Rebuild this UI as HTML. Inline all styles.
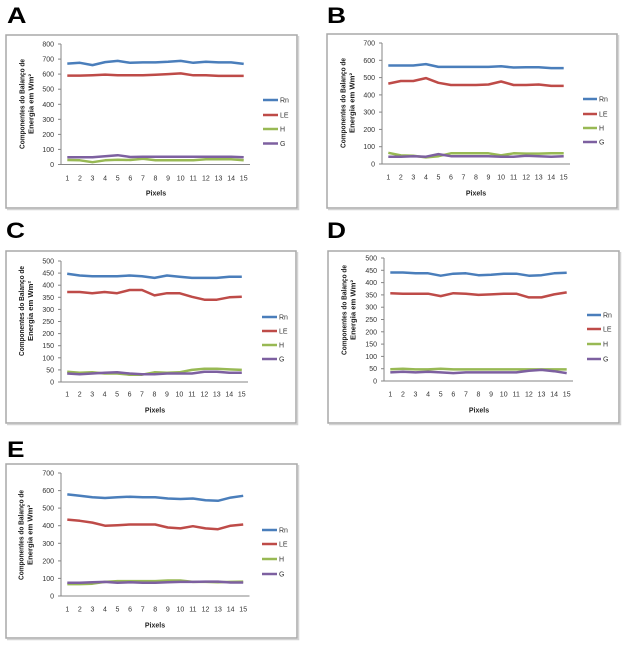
<!DOCTYPE html>
<html><head><meta charset="utf-8"><style>
html,body{margin:0;padding:0;background:#fff;}
svg{display:block;}
text{font-family:"Liberation Sans",Arial,sans-serif;fill:#333;}
.t{font-size:7px;}
.b{font-size:7px;font-weight:bold;fill:#222;}
.y{font-size:7.3px;font-weight:bold;fill:#1a1a1a;}
.L{font-size:22px;font-weight:bold;fill:#000;}
.ax{stroke:#868686;stroke-width:1;fill:none;}
.rn{stroke:#4a7ebb;stroke-width:2.5;fill:none;stroke-linejoin:round;}
.le{stroke:#be4b48;stroke-width:2.5;fill:none;stroke-linejoin:round;}
.h{stroke:#98b954;stroke-width:2.5;fill:none;stroke-linejoin:round;}
.g{stroke:#7d60a0;stroke-width:2.5;fill:none;stroke-linejoin:round;}
.fr{fill:#fff;stroke:#a8a8a8;stroke-width:1.5;}
.sh{stroke:#d4d4d4;stroke-width:1.5;fill:none;}
</style></head><body>
<svg width="628" height="650" viewBox="0 0 628 650" xmlns="http://www.w3.org/2000/svg">

<!-- ===== Panel A ===== -->
<text class="L" x="7" y="23" textLength="19.5" lengthAdjust="spacingAndGlyphs">A</text>
<rect class="fr" x="6" y="35" width="291" height="173"/>
<polyline class="sh" points="298.5,36 298.5,209.5 7,209.5"/>
<line class="ax" x1="61" y1="44" x2="61" y2="164.5"/>
<line class="ax" x1="61" y1="164.5" x2="250" y2="164.5"/>
<g class="ax">
<line x1="58" y1="164.5" x2="61" y2="164.5"/><line x1="58" y1="149.4" x2="61" y2="149.4"/><line x1="58" y1="134.4" x2="61" y2="134.4"/><line x1="58" y1="119.3" x2="61" y2="119.3"/><line x1="58" y1="104.3" x2="61" y2="104.3"/><line x1="58" y1="89.2" x2="61" y2="89.2"/><line x1="58" y1="74.1" x2="61" y2="74.1"/><line x1="58" y1="59.1" x2="61" y2="59.1"/><line x1="58" y1="44" x2="61" y2="44"/>
</g>
<g class="t" text-anchor="end">
<text x="54" y="167">0</text><text x="54" y="151.9">100</text><text x="54" y="136.9">200</text><text x="54" y="121.8">300</text><text x="54" y="106.8">400</text><text x="54" y="91.7">500</text><text x="54" y="76.6">600</text><text x="54" y="61.6">700</text><text x="54" y="46.5">800</text>
</g>
<g class="t" text-anchor="middle">
<text x="67.3" y="180.5">1</text><text x="79.9" y="180.5">2</text><text x="92.5" y="180.5">3</text><text x="105.1" y="180.5">4</text><text x="117.7" y="180.5">5</text><text x="130.3" y="180.5">6</text><text x="142.9" y="180.5">7</text><text x="155.5" y="180.5">8</text><text x="168.1" y="180.5">9</text><text x="180.7" y="180.5">10</text><text x="193.3" y="180.5">11</text><text x="205.9" y="180.5">12</text><text x="218.5" y="180.5">13</text><text x="231.1" y="180.5">14</text><text x="243.7" y="180.5">15</text>
</g>
<text class="b" x="156" y="195.5" text-anchor="middle">Pixels</text>
<text class="y" text-anchor="middle" transform="translate(24.5,104) rotate(-90)" textLength="90" lengthAdjust="spacingAndGlyphs">Componentes do Balanço de</text>
<text class="y" text-anchor="middle" transform="translate(33.5,104) rotate(-90)" textLength="60" lengthAdjust="spacingAndGlyphs">Energia em Wm²</text>
<polyline class="rn" points="67.3,63.6 79.9,62.8 92.5,65.1 105.1,62.1 117.7,60.9 130.3,62.8 142.9,62.4 155.5,62.4 168.1,61.8 180.7,60.9 193.3,62.8 205.9,61.8 218.5,62.4 231.1,62.4 243.7,63.9"/>
<polyline class="le" points="67.3,75.6 79.9,75.6 92.5,75.2 105.1,74.6 117.7,75.3 130.3,75.3 142.9,75.3 155.5,74.7 168.1,74.1 180.7,73.4 193.3,75.3 205.9,75.3 218.5,75.9 231.1,75.9 243.7,75.9"/>
<polyline class="h" points="67.3,160 79.9,160.3 92.5,162.2 105.1,160.3 117.7,159.7 130.3,160 142.9,158.8 155.5,160.3 168.1,160.3 180.7,160.3 193.3,160.3 205.9,159.2 218.5,159.2 231.1,159.2 243.7,160.3"/>
<polyline class="g" points="67.3,157.3 79.9,157.3 92.5,157.3 105.1,156.2 117.7,155.2 130.3,157 142.9,156.7 155.5,156.7 168.1,156.7 180.7,156.7 193.3,156.7 205.9,156.7 218.5,156.7 231.1,156.7 243.7,157.3"/>
<line class="rn" x1="263" y1="100" x2="278" y2="100"/><text class="t" x="280" y="102.5">Rn</text>
<line class="le" x1="263" y1="115" x2="278" y2="115"/><text class="t" x="280" y="117.5">LE</text>
<line class="h" x1="263" y1="129" x2="278" y2="129"/><text class="t" x="280" y="131.5">H</text>
<line class="g" x1="263" y1="143.5" x2="278" y2="143.5"/><text class="t" x="280" y="146">G</text>

<!-- ===== Panel B ===== -->
<text class="L" x="327" y="23" textLength="19" lengthAdjust="spacingAndGlyphs">B</text>
<rect class="fr" x="327" y="34" width="290" height="174"/>
<polyline class="sh" points="618.5,35 618.5,209.5 328,209.5"/>
<line class="ax" x1="382" y1="43" x2="382" y2="164"/>
<line class="ax" x1="382" y1="164" x2="570" y2="164"/>
<g class="ax">
<line x1="379" y1="164" x2="382" y2="164"/><line x1="379" y1="146.7" x2="382" y2="146.7"/><line x1="379" y1="129.4" x2="382" y2="129.4"/><line x1="379" y1="112.1" x2="382" y2="112.1"/><line x1="379" y1="94.9" x2="382" y2="94.9"/><line x1="379" y1="77.6" x2="382" y2="77.6"/><line x1="379" y1="60.3" x2="382" y2="60.3"/><line x1="379" y1="43" x2="382" y2="43"/>
</g>
<g class="t" text-anchor="end">
<text x="375" y="166.5">0</text><text x="375" y="149.2">100</text><text x="375" y="131.9">200</text><text x="375" y="114.6">300</text><text x="375" y="97.4">400</text><text x="375" y="80.1">500</text><text x="375" y="62.8">600</text><text x="375" y="45.5">700</text>
</g>
<g class="t" text-anchor="middle">
<text x="388.3" y="179.5">1</text><text x="400.8" y="179.5">2</text><text x="413.3" y="179.5">3</text><text x="425.9" y="179.5">4</text><text x="438.4" y="179.5">5</text><text x="450.9" y="179.5">6</text><text x="463.5" y="179.5">7</text><text x="476" y="179.5">8</text><text x="488.5" y="179.5">9</text><text x="501.1" y="179.5">10</text><text x="513.6" y="179.5">11</text><text x="526.1" y="179.5">12</text><text x="538.7" y="179.5">13</text><text x="551.2" y="179.5">14</text><text x="563.7" y="179.5">15</text>
</g>
<text class="b" x="476" y="195.5" text-anchor="middle">Pixels</text>
<text class="y" text-anchor="middle" transform="translate(345.5,103) rotate(-90)" textLength="90" lengthAdjust="spacingAndGlyphs">Componentes do Balanço de</text>
<text class="y" text-anchor="middle" transform="translate(354.5,103) rotate(-90)" textLength="60" lengthAdjust="spacingAndGlyphs">Energia em Wm²</text>
<polyline class="rn" points="388.3,65.5 400.8,65.5 413.3,65.5 425.9,64.1 438.4,66.9 450.9,66.9 463.5,66.9 476,66.9 488.5,66.9 501.1,66.3 513.6,67.5 526.1,67.2 538.7,67.2 551.2,68.1 563.7,68.1"/>
<polyline class="le" points="388.3,83.6 400.8,81 413.3,81 425.9,78.1 438.4,82.8 450.9,85 463.5,85 476,85 488.5,84.5 501.1,81.5 513.6,85 526.1,85 538.7,84.5 551.2,85.9 563.7,85.9"/>
<polyline class="h" points="388.3,152.8 400.8,155.4 413.3,155.7 425.9,157.4 438.4,156.2 450.9,153.3 463.5,153.3 476,153.3 488.5,153.3 501.1,155.4 513.6,153.3 526.1,153.6 538.7,153.6 551.2,153.3 563.7,153.3"/>
<polyline class="g" points="388.3,156.7 400.8,156.7 413.3,156.2 425.9,156.7 438.4,154.1 450.9,156.2 463.5,156.2 476,156.2 488.5,156.2 501.1,156.7 513.6,156.7 526.1,155.7 538.7,156.2 551.2,156.7 563.7,156.2"/>
<line class="rn" x1="583" y1="99" x2="597" y2="99"/><text class="t" x="599" y="101.5">Rn</text>
<line class="le" x1="583" y1="114" x2="597" y2="114"/><text class="t" x="599" y="116.5">LE</text>
<line class="h" x1="583" y1="128" x2="597" y2="128"/><text class="t" x="599" y="130.5">H</text>
<line class="g" x1="583" y1="142" x2="597" y2="142"/><text class="t" x="599" y="144.5">G</text>

<!-- ===== Panel C ===== -->
<text class="L" x="6" y="238" textLength="19" lengthAdjust="spacingAndGlyphs">C</text>
<rect class="fr" x="6" y="251" width="290" height="172"/>
<polyline class="sh" points="297.5,252 297.5,424.5 7,424.5"/>
<line class="ax" x1="61" y1="261" x2="61" y2="382"/>
<line class="ax" x1="61" y1="382" x2="248" y2="382"/>
<g class="ax">
<line x1="58" y1="382" x2="61" y2="382"/><line x1="58" y1="369.9" x2="61" y2="369.9"/><line x1="58" y1="357.8" x2="61" y2="357.8"/><line x1="58" y1="345.7" x2="61" y2="345.7"/><line x1="58" y1="333.6" x2="61" y2="333.6"/><line x1="58" y1="321.5" x2="61" y2="321.5"/><line x1="58" y1="309.4" x2="61" y2="309.4"/><line x1="58" y1="297.3" x2="61" y2="297.3"/><line x1="58" y1="285.2" x2="61" y2="285.2"/><line x1="58" y1="273.1" x2="61" y2="273.1"/><line x1="58" y1="261" x2="61" y2="261"/>
</g>
<g class="t" text-anchor="end">
<text x="54" y="384.5">0</text><text x="54" y="372.4">50</text><text x="54" y="360.3">100</text><text x="54" y="348.2">150</text><text x="54" y="336.1">200</text><text x="54" y="324">250</text><text x="54" y="311.9">300</text><text x="54" y="299.8">350</text><text x="54" y="287.7">400</text><text x="54" y="275.6">450</text><text x="54" y="263.5">500</text>
</g>
<g class="t" text-anchor="middle">
<text x="67.2" y="396.5">1</text><text x="79.7" y="396.5">2</text><text x="92.2" y="396.5">3</text><text x="104.6" y="396.5">4</text><text x="117.1" y="396.5">5</text><text x="129.6" y="396.5">6</text><text x="142" y="396.5">7</text><text x="154.5" y="396.5">8</text><text x="167" y="396.5">9</text><text x="179.4" y="396.5">10</text><text x="191.9" y="396.5">11</text><text x="204.4" y="396.5">12</text><text x="216.8" y="396.5">13</text><text x="229.3" y="396.5">14</text><text x="241.8" y="396.5">15</text>
</g>
<text class="b" x="155" y="412.5" text-anchor="middle">Pixels</text>
<text class="y" text-anchor="middle" transform="translate(24,311) rotate(-90)" textLength="90" lengthAdjust="spacingAndGlyphs">Componentes do Balanço de</text>
<text class="y" text-anchor="middle" transform="translate(33,311) rotate(-90)" textLength="60" lengthAdjust="spacingAndGlyphs">Energia em Wm²</text>
<polyline class="rn" points="67.2,273.8 79.7,275.5 92.2,276.2 104.6,276.2 117.1,276.2 129.6,275.5 142,276.2 154.5,277.9 167,275.5 179.4,276.7 191.9,277.9 204.4,277.9 216.8,277.9 229.3,276.7 241.8,276.7"/>
<polyline class="le" points="67.2,292 79.7,292 92.2,293.2 104.6,292 117.1,293.2 129.6,290 142,290 154.5,295.4 167,293.2 179.4,293.2 191.9,296.8 204.4,299.7 216.8,299.7 229.3,297.3 241.8,296.8"/>
<polyline class="h" points="67.2,371.8 79.7,372.8 92.2,372.3 104.6,373.5 117.1,373.5 129.6,374.7 142,374.7 154.5,372.3 167,372.8 179.4,372.3 191.9,369.9 204.4,368.7 216.8,368.7 229.3,369.4 241.8,369.9"/>
<polyline class="g" points="67.2,373.5 79.7,374.3 92.2,373.5 104.6,372.8 117.1,372.3 129.6,373.5 142,374.3 154.5,374.3 167,373.5 179.4,373.5 191.9,373.5 204.4,371.8 216.8,371.8 229.3,372.8 241.8,372.8"/>
<line class="rn" x1="262" y1="317" x2="277" y2="317"/><text class="t" x="279" y="319.5">Rn</text>
<line class="le" x1="262" y1="331" x2="277" y2="331"/><text class="t" x="279" y="333.5">LE</text>
<line class="h" x1="262" y1="345" x2="277" y2="345"/><text class="t" x="279" y="347.5">H</text>
<line class="g" x1="262" y1="359" x2="277" y2="359"/><text class="t" x="279" y="361.5">G</text>

<!-- ===== Panel D ===== -->
<text class="L" x="327" y="238" textLength="19" lengthAdjust="spacingAndGlyphs">D</text>
<rect class="fr" x="328" y="251" width="291" height="172"/>
<polyline class="sh" points="620.5,252 620.5,424.5 329,424.5"/>
<line class="ax" x1="384" y1="258" x2="384" y2="381"/>
<line class="ax" x1="384" y1="381" x2="573" y2="381"/>
<g class="ax">
<line x1="381" y1="381" x2="384" y2="381"/><line x1="381" y1="368.7" x2="384" y2="368.7"/><line x1="381" y1="356.4" x2="384" y2="356.4"/><line x1="381" y1="344.1" x2="384" y2="344.1"/><line x1="381" y1="331.8" x2="384" y2="331.8"/><line x1="381" y1="319.5" x2="384" y2="319.5"/><line x1="381" y1="307.2" x2="384" y2="307.2"/><line x1="381" y1="294.9" x2="384" y2="294.9"/><line x1="381" y1="282.6" x2="384" y2="282.6"/><line x1="381" y1="270.3" x2="384" y2="270.3"/><line x1="381" y1="258" x2="384" y2="258"/>
</g>
<g class="t" text-anchor="end">
<text x="377" y="383.5">0</text><text x="377" y="371.2">50</text><text x="377" y="358.9">100</text><text x="377" y="346.6">150</text><text x="377" y="334.3">200</text><text x="377" y="322">250</text><text x="377" y="309.7">300</text><text x="377" y="297.4">350</text><text x="377" y="285.1">400</text><text x="377" y="272.8">450</text><text x="377" y="260.5">500</text>
</g>
<g class="t" text-anchor="middle">
<text x="390.3" y="396.5">1</text><text x="402.9" y="396.5">2</text><text x="415.5" y="396.5">3</text><text x="428.1" y="396.5">4</text><text x="440.7" y="396.5">5</text><text x="453.3" y="396.5">6</text><text x="465.9" y="396.5">7</text><text x="478.5" y="396.5">8</text><text x="491.1" y="396.5">9</text><text x="503.7" y="396.5">10</text><text x="516.3" y="396.5">11</text><text x="528.9" y="396.5">12</text><text x="541.5" y="396.5">13</text><text x="554.1" y="396.5">14</text><text x="566.7" y="396.5">15</text>
</g>
<text class="b" x="479" y="412.5" text-anchor="middle">Pixels</text>
<text class="y" text-anchor="middle" transform="translate(346.5,310) rotate(-90)" textLength="90" lengthAdjust="spacingAndGlyphs">Componentes do Balanço de</text>
<text class="y" text-anchor="middle" transform="translate(355.5,310) rotate(-90)" textLength="60" lengthAdjust="spacingAndGlyphs">Energia em Wm²</text>
<polyline class="rn" points="390.3,272.5 402.9,272.5 415.5,273.3 428.1,273.3 440.7,275.7 453.3,273.7 465.9,273.3 478.5,275.2 491.1,274.7 503.7,273.7 516.3,273.7 528.9,275.7 541.5,275.2 554.1,273.3 566.7,272.8"/>
<polyline class="le" points="390.3,293.2 402.9,293.7 415.5,293.7 428.1,293.7 440.7,296.1 453.3,293.2 465.9,293.7 478.5,294.9 491.1,294.4 503.7,293.7 516.3,293.7 528.9,297.4 541.5,297.4 554.1,294.4 566.7,292.4"/>
<polyline class="h" points="390.3,369.2 402.9,368.7 415.5,369.4 428.1,369.4 440.7,368.7 453.3,369.4 465.9,369.4 478.5,369.4 491.1,369.4 503.7,369.4 516.3,369.4 528.9,369.4 541.5,369.4 554.1,369.4 566.7,369.4"/>
<polyline class="g" points="390.3,372.4 402.9,371.7 415.5,372.4 428.1,371.7 440.7,372.4 453.3,373.1 465.9,372.4 478.5,372.4 491.1,372.4 503.7,372.4 516.3,372.4 528.9,370.7 541.5,369.9 554.1,371.2 566.7,373.1"/>
<line class="rn" x1="587" y1="315" x2="601" y2="315"/><text class="t" x="603" y="317.5">Rn</text>
<line class="le" x1="587" y1="329" x2="601" y2="329"/><text class="t" x="603" y="331.5">LE</text>
<line class="h" x1="587" y1="344" x2="601" y2="344"/><text class="t" x="603" y="346.5">H</text>
<line class="g" x1="587" y1="359" x2="601" y2="359"/><text class="t" x="603" y="361.5">G</text>

<!-- ===== Panel E ===== -->
<text class="L" x="7" y="457" textLength="17.5" lengthAdjust="spacingAndGlyphs">E</text>
<rect class="fr" x="6" y="464" width="291" height="174"/>
<polyline class="sh" points="298.5,465 298.5,639.5 7,639.5"/>
<line class="ax" x1="61" y1="473" x2="61" y2="596"/>
<line class="ax" x1="61" y1="596" x2="249.5" y2="596"/>
<g class="ax">
<line x1="58" y1="596" x2="61" y2="596"/><line x1="58" y1="578.4" x2="61" y2="578.4"/><line x1="58" y1="560.9" x2="61" y2="560.9"/><line x1="58" y1="543.3" x2="61" y2="543.3"/><line x1="58" y1="525.7" x2="61" y2="525.7"/><line x1="58" y1="508.1" x2="61" y2="508.1"/><line x1="58" y1="490.6" x2="61" y2="490.6"/><line x1="58" y1="473" x2="61" y2="473"/>
</g>
<g class="t" text-anchor="end">
<text x="54" y="598.5">0</text><text x="54" y="580.9">100</text><text x="54" y="563.4">200</text><text x="54" y="545.8">300</text><text x="54" y="528.2">400</text><text x="54" y="510.6">500</text><text x="54" y="493.1">600</text><text x="54" y="475.5">700</text>
</g>
<g class="t" text-anchor="middle">
<text x="67.3" y="611.5">1</text><text x="79.8" y="611.5">2</text><text x="92.4" y="611.5">3</text><text x="105" y="611.5">4</text><text x="117.5" y="611.5">5</text><text x="130.1" y="611.5">6</text><text x="142.7" y="611.5">7</text><text x="155.2" y="611.5">8</text><text x="167.8" y="611.5">9</text><text x="180.4" y="611.5">10</text><text x="192.9" y="611.5">11</text><text x="205.5" y="611.5">12</text><text x="218" y="611.5">13</text><text x="230.6" y="611.5">14</text><text x="243.2" y="611.5">15</text>
</g>
<text class="b" x="155" y="627.5" text-anchor="middle">Pixels</text>
<text class="y" text-anchor="middle" transform="translate(23.5,535) rotate(-90)" textLength="90" lengthAdjust="spacingAndGlyphs">Componentes do Balanço de</text>
<text class="y" text-anchor="middle" transform="translate(32.5,535) rotate(-90)" textLength="60" lengthAdjust="spacingAndGlyphs">Energia em Wm²</text>
<polyline class="rn" points="67.3,494.4 79.8,495.8 92.4,497.2 105,498 117.5,497.2 130.1,496.7 142.7,497.2 155.2,497.2 167.8,498.5 180.4,499 192.9,498.5 205.5,500.2 218,500.8 230.6,497.6 243.2,495.8"/>
<polyline class="le" points="67.3,519.6 79.8,520.8 92.4,522.6 105,525.7 117.5,525.2 130.1,524.5 142.7,524.5 155.2,524.5 167.8,527.5 180.4,528.4 192.9,526.2 205.5,528.4 218,529.2 230.6,525.7 243.2,524.5"/>
<polyline class="h" points="67.3,584.1 79.8,584.1 92.4,583.7 105,581.9 117.5,581.1 130.1,581.1 142.7,581.1 155.2,581.1 167.8,580.5 180.4,580.5 192.9,581.9 205.5,581.9 218,582.3 230.6,581.9 243.2,581.6"/>
<polyline class="g" points="67.3,582.8 79.8,582.8 92.4,582.3 105,581.9 117.5,582.8 130.1,582.3 142.7,582.8 155.2,582.8 167.8,582.3 180.4,581.9 192.9,581.9 205.5,581.6 218,581.6 230.6,582.5 243.2,582.5"/>
<line class="rn" x1="262" y1="530" x2="277" y2="530"/><text class="t" x="279" y="532.5">Rn</text>
<line class="le" x1="262" y1="544" x2="277" y2="544"/><text class="t" x="279" y="546.5">LE</text>
<line class="h" x1="262" y1="559" x2="277" y2="559"/><text class="t" x="279" y="561.5">H</text>
<line class="g" x1="262" y1="574" x2="277" y2="574"/><text class="t" x="279" y="576.5">G</text>
</svg>
</body></html>
